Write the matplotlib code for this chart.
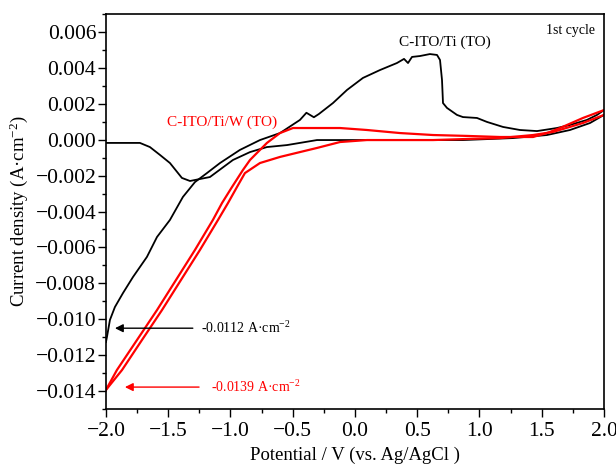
"""
Cyclic voltammetry, 1st cycle: C-ITO/Ti (TO) vs C-ITO/Ti/W (TO)
Output -> out.png
"""

import matplotlib
matplotlib.use("Agg")
import matplotlib.pyplot as plt
from matplotlib.ticker import MultipleLocator, FuncFormatter

plt.rcParams["font.family"] = ["Liberation Serif", "DejaVu Serif"]
plt.rcParams["mathtext.fontset"] = "custom"
plt.rcParams["mathtext.rm"] = "Liberation Serif"
plt.rcParams["mathtext.it"] = "Liberation Serif:italic"

# ── C-ITO/Ti (TO), forward sweep (V, A/cm2) ──
ti_fwd_v = [-2.0, -1.727, -1.647, -1.566, -1.486, -1.39, -1.325, -1.245, -1.165,
            -0.98, -0.843, -0.707, -0.546, -0.305, -0.04, 0.337, 0.867, 1.269,
            1.542, 1.727, 1.888, 2.0]
ti_fwd_j = [-0.00018, -0.00018, -0.00041, -0.00085, -0.0013, -0.00213, -0.0023,
            -0.00219, -0.00208, -0.00113, -0.00069, -0.00041, -0.0003, -0.00002,
            -0.00002, -0.00002, -0.00002, 0.00009, 0.00026, 0.00054, 0.00093, 0.00138]

# ── C-ITO/Ti (TO), reverse sweep ──
ti_rev_v = [2.0, 1.944, 1.863, 1.727, 1.622, 1.462, 1.325, 1.189, 1.06, 0.98,
            0.867, 0.819, 0.739, 0.707, 0.699, 0.683, 0.659, 0.602, 0.522, 0.458,
            0.426, 0.394, 0.337, 0.201, 0.064, -0.064, -0.177, -0.29, -0.33, -0.39,
            -0.442, -0.602, -0.763, -0.924, -1.084, -1.189, -1.285, -1.382, -1.486,
            -1.59, -1.671, -1.783, -1.863, -1.928, -1.968, -1.992, -2.0]
ti_rev_j = [0.00165, 0.00138, 0.0011, 0.00082, 0.00065, 0.00048, 0.00054, 0.00071,
            0.00099, 0.00121, 0.00126, 0.00138, 0.00177, 0.00204, 0.00333, 0.00444,
            0.00472, 0.00477, 0.00466, 0.00461, 0.00427, 0.0045, 0.00427, 0.00388,
            0.00344, 0.00277, 0.00204, 0.00143, 0.00125, 0.0015, 0.0011, 0.00037,
            -0.00002, -0.00057, -0.0013, -0.00186, -0.00236, -0.00319, -0.00447,
            -0.00542, -0.00653, -0.00765, -0.00854, -0.00932, -0.01004, -0.01099,
            -0.01127]

# ── C-ITO/Ti/W (TO), forward sweep ──
w_fwd_v = [-2.0, -1.871, -1.711, -1.55, -1.398, -1.245, -1.1, -1.02, -0.948,
           -0.884, -0.763, -0.602, -0.442, -0.305, -0.12, 0.096, 0.361, 0.627,
           0.9, 1.165, 1.43, 1.59, 1.831, 2.0]
w_fwd_j = [-0.01394, -0.01283, -0.01116, -0.00949, -0.00782, -0.00614, -0.00447,
           -0.00353, -0.00264, -0.00186, -0.0013, -0.00096, -0.00069, -0.00046,
           -0.00013, -0.00002, -0.00002, -0.00002, 0.00004, 0.00009, 0.00026,
           0.00043, 0.00093, 0.00138]

# ── C-ITO/Ti/W (TO), reverse sweep ──
w_rev_v = [2.0, 1.831, 1.647, 1.542, 1.43, 1.165, 0.9, 0.627, 0.361, 0.096, -0.12,
           -0.361, -0.498, -0.602, -0.707, -0.763, -0.843, -0.9, -0.988, -1.068,
           -1.141, -1.285, -1.438, -1.59, -1.751, -1.912, -2.0]
w_rev_j = [0.00165, 0.00121, 0.00065, 0.00037, 0.00015, 0.00015, 0.00021, 0.00026,
           0.00037, 0.00054, 0.00065, 0.00065, 0.00065, 0.00037, -0.00018, -0.00057,
           -0.00113, -0.00169, -0.00264, -0.00353, -0.00447, -0.00614, -0.00782,
           -0.00949, -0.01116, -0.01283, -0.01394]

peak_ti = -0.0112
peak_w = -0.0139


def minus_fmt(fmt):
    # proper minus sign like the original axis labels
    return FuncFormatter(lambda x, pos: (fmt % x).replace("-", "\u2212"))


fig = plt.figure(figsize=(6.16, 4.72), dpi=100)
ax = fig.add_axes([0.172, 0.1335, 0.8085, 0.8368])

ax.plot(ti_fwd_v, ti_fwd_j, color="black", lw=1.3)
ax.plot(ti_rev_v, ti_rev_j, color="black", lw=1.3)
ax.plot(w_fwd_v, w_fwd_j, color="red", lw=1.6)
ax.plot(w_rev_v, w_rev_j, color="red", lw=1.6)

ax.set_xlim(-2.0, 2.0)
ax.set_ylim(-0.015, 0.007)
ax.xaxis.set_major_locator(MultipleLocator(0.5))
ax.xaxis.set_minor_locator(MultipleLocator(0.25))
ax.yaxis.set_major_locator(MultipleLocator(0.002))
ax.yaxis.set_minor_locator(MultipleLocator(0.001))
ax.xaxis.set_major_formatter(minus_fmt("%.1f"))
ax.yaxis.set_major_formatter(minus_fmt("%.3f"))
ax.tick_params(which="both", direction="out", top=False, right=False,
               labelsize=15.5, width=1.0)
ax.tick_params(axis="y", pad=1)
ax.tick_params(which="major", length=6)
ax.tick_params(which="minor", length=3)
for sp in ax.spines.values():
    sp.set_linewidth(1.2)

ax.set_xlabel("Potential / V (vs. Ag/AgCl )", fontsize=13.5)
ax.set_ylabel(r"Current density (A·cm$^{\mathregular{-2}}$)", fontsize=13.5)

ax.text(0.72, 0.0054, "C-ITO/Ti (TO)", fontsize=11, color="black", ha="center", va="center")
ax.text(-1.07, 0.00099, "C-ITO/Ti/W (TO)", fontsize=11, color="red", ha="center", va="center")
ax.text(1.93, 0.0061, "1st cycle", fontsize=10, color="black", ha="right", va="center")

# ── current at -2.0 V arrows ──
ax.annotate("", xy=(-1.95, -0.0105), xytext=(-1.28, -0.0105),
            arrowprops=dict(arrowstyle="-|>", color="black", lw=1.0, mutation_scale=12))
ax.text(-1.24, -0.0105, r"-0.0112 A·cm$^{\mathregular{-2}}$", fontsize=10,
        color="black", ha="left", va="center")
ax.annotate("", xy=(-1.87, -0.01378), xytext=(-1.23, -0.01378),
            arrowprops=dict(arrowstyle="-|>", color="red", lw=1.0, mutation_scale=12))
ax.text(-1.16, -0.01378, r"-0.0139 A·cm$^{\mathregular{-2}}$", fontsize=10,
        color="red", ha="left", va="center")

fig.savefig("out.png", dpi=100)
